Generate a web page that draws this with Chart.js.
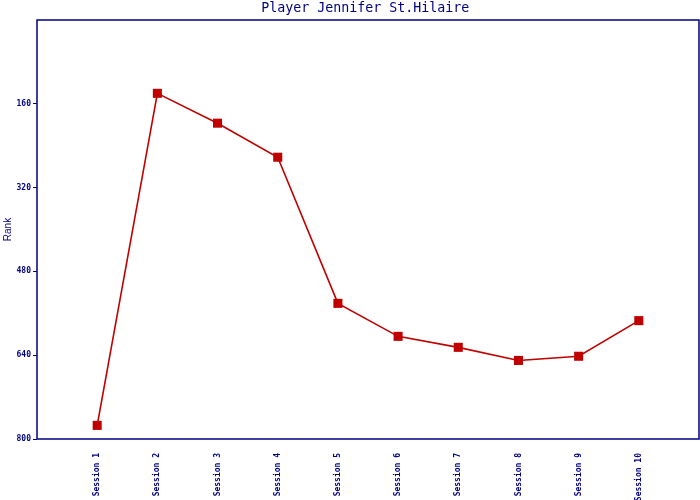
<!DOCTYPE html>
<html>
<head>
<meta charset="utf-8">
<script src="https://cdn.jsdelivr.net/npm/chart.js@4"></script>
<style>
html,body{margin:0;padding:0;background:#fff;overflow:hidden;}
#wrap{width:700px;height:500px;}
canvas{display:block;}
</style>
</head>
<body>
<div id="wrap"><canvas id="c" width="700" height="500"></canvas></div>
<script>
const chartTitle = 'Player Jennifer St.Hilaire';
const yAxisTitle = 'Rank';
const sessions = ['Session 1','Session 2','Session 3','Session 4','Session 5','Session 6','Session 7','Session 8','Session 9','Session 10'];
const ranks = [774, 140, 197, 262, 541, 604, 625, 650, 642, 574];
const yTicks = [160, 320, 480, 640, 800];

const NAVY = '#000080';
const RED = '#c00000';
const MONO = '"DejaVu Sans Mono", "Liberation Mono", monospace';

// widen the plot area to the right edge (Chart.js reserves room for the last rotated label)
const stretchPlugin = {
  id: 'stretch',
  afterLayout(chart) {
    const target = chart.width - 1;
    const a = chart.chartArea;
    a.right = target;
    a.width = a.right - a.left;
    const x = chart.scales.x;
    x.right = target;
    x.width = x.right - x.left;
    x.configure();
  }
};

const boxPlugin = {
  id: 'box',
  afterDatasetsDraw(chart) {
    const a = chart.chartArea, ctx = chart.ctx;
    ctx.save();
    ctx.strokeStyle = NAVY;
    ctx.lineWidth = 1.5;
    const l = Math.round(a.left), t = Math.round(a.top), r = Math.round(a.right), b = Math.round(a.bottom);
    ctx.strokeRect(l, t, r - l, b - t);
    ctx.restore();
  }
};

new Chart(document.getElementById('c'), {
  type: 'line',
  data: {
    datasets: [{
      data: sessions.map((s, i) => ({x: i + 1, y: ranks[i]})),
      borderColor: RED,
      backgroundColor: RED,
      borderWidth: 1.6,
      tension: 0,
      pointStyle: 'rect',
      pointRadius: 6.4,
      pointBorderWidth: 0,
      pointBackgroundColor: RED,
      fill: false
    }]
  },
  options: {
    responsive: false,
    animation: false,
    layout: {padding: {right: 1, top: 0, left: 0, bottom: 0}},
    plugins: {
      legend: {display: false},
      tooltip: {enabled: false},
      title: {
        display: true,
        fullSize: false,
        text: chartTitle,
        color: NAVY,
        font: {family: MONO, size: 13.3, weight: 'normal', lineHeight: 1},
        padding: {top: 2, bottom: 4.7}
      }
    },
    scales: {
      x: {
        type: 'linear',
        min: 0,
        max: sessions.length + 1,
        afterBuildTicks(scale) {
          scale.ticks = sessions.map((s, i) => ({value: i + 1}));
        },
        afterFit(scale) {
          scale.height = 61;
          scale.paddingLeft = 0;
          scale.paddingRight = 0;
        },
        grid: {display: false},
        border: {display: false},
        ticks: {
          autoSkip: false,
          maxRotation: 90,
          minRotation: 90,
          padding: 6,
          color: NAVY,
          font: {family: MONO, size: 8, weight: 'bold'},
          callback: (v) => sessions[v - 1] || ''
        }
      },
      y: {
        type: 'linear',
        reverse: true,
        min: 0,
        max: 800,
        afterBuildTicks(scale) {
          scale.ticks = yTicks.map(v => ({value: v}));
        },
        afterFit(scale) {
          scale.width = 37;
          scale.paddingTop = 0;
          scale.paddingBottom = 0;
        },
        grid: {drawOnChartArea: false, drawTicks: true, tickLength: 4, color: NAVY},
        border: {display: false},
        title: {
          display: true,
          text: yAxisTitle,
          color: NAVY,
          font: {family: '"Liberation Sans", Arial, sans-serif', size: 10},
          padding: {top: 2, bottom: 0}
        },
        ticks: {
          padding: 2,
          color: NAVY,
          font: {family: MONO, size: 8, weight: 'bold'}
        }
      }
    }
  },
  plugins: [stretchPlugin, boxPlugin]
});
</script>
</body>
</html>
